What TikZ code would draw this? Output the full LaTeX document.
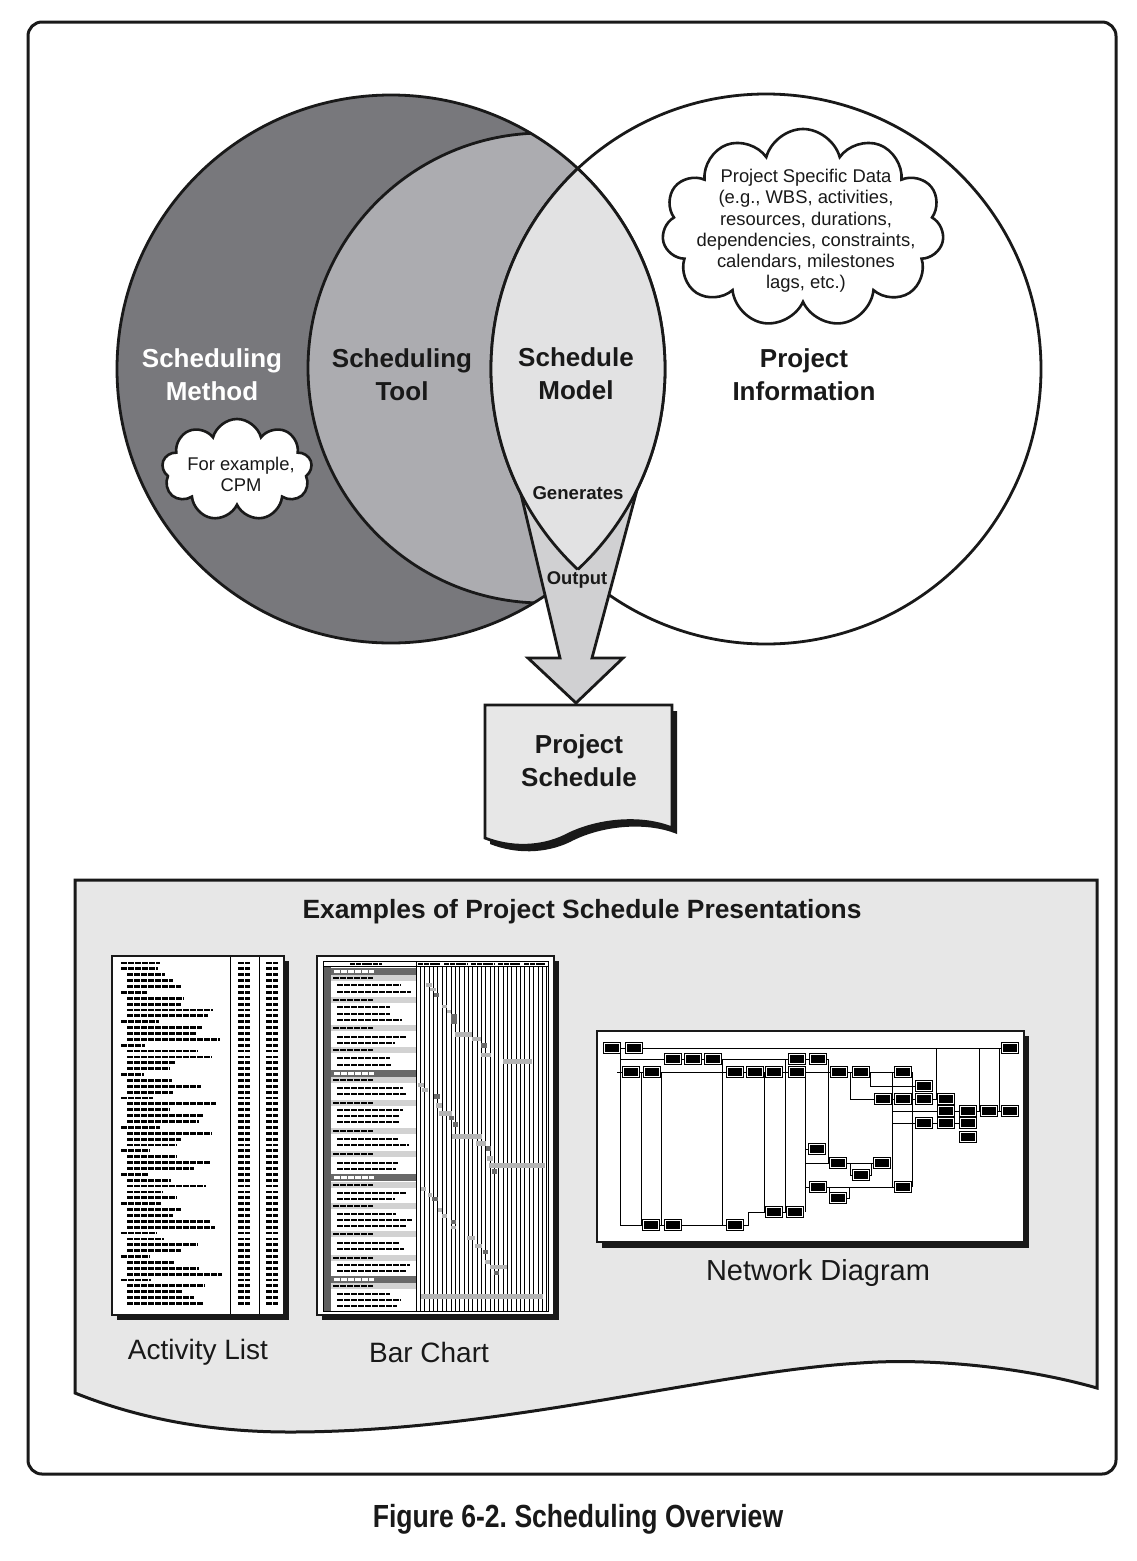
\documentclass[tikz,border=0pt]{standalone}
\usepackage{fontspec}
\usepackage{graphicx}
\setmainfont{Liberation Sans}
\usetikzlibrary{shapes.symbols}
\definecolor{cdark}{RGB}{120,120,124}
\definecolor{ctool}{RGB}{172,172,176}
\definecolor{clens}{RGB}{226,226,227}
\definecolor{carrow}{RGB}{208,208,210}
\definecolor{cpanel}{RGB}{231,231,231}
\definecolor{cband}{RGB}{210,210,210}
\definecolor{cbandd}{RGB}{105,105,105}
\definecolor{cstrip}{RGB}{95,95,95}
\definecolor{cbarl}{RGB}{180,180,180}
\definecolor{cbard}{RGB}{105,105,105}
\definecolor{cink}{RGB}{25,25,25}
\frenchspacing
\begin{document}
\begin{tikzpicture}[x=1pt,y=-1pt,
  lw/.style={line width=2.8pt, draw=cink},
  big/.style={font=\fontsize{26}{33}\selectfont\bfseries, align=center, inner sep=0pt, text=cink},
  small/.style={font=\fontsize{18.4}{21.2}\selectfont, align=center, inner sep=0pt, text=cink},
  capt/.style={font=\fontsize{28}{30}\selectfont, inner sep=0pt, text=cink},
  txt/.style={line width=2.8pt, dash pattern=on 6pt off 1pt, draw=black},
  ttxt/.style={line width=2.4pt, dash pattern=on 6pt off 1pt},
  nd/.style={draw=black, double=white, double distance=0.6pt, line width=1pt, fill=black,
    minimum width=15pt, minimum height=8.5pt, inner sep=0pt},
  nl/.style={line width=0.8pt, draw=black},
  puff/.style={cloud, cloud ignores aspect, draw=cink, fill=white, line width=2.6pt, inner sep=0pt}]
\useasboundingbox (0,0) rectangle (1137,1561);
\fill[white] (0,0) rectangle (1137,1561);

% outer frame
\draw[line width=3pt, draw=cink, rounded corners=14pt] (28,22) rectangle (1116,1474);

% ---- Venn part ----
\fill[white] (766,369) circle[radius=275];
\fill[cdark] (391,369) circle[radius=274];
\begin{scope}
  \clip (391,369) circle[radius=274];
  \fill[ctool] (543,368) circle[radius=235];
  \draw[lw] (543,368) circle[radius=235];
\end{scope}
\draw[lw] (391,369) circle[radius=274];
\draw[lw] (766,369) circle[radius=275];

% output arrow
\fill[carrow] (520,490) -- (560,658) -- (528,658) -- (576,703) -- (623,658) -- (592,658) -- (637,490) -- cycle;
\draw[lw, line join=miter] (520,490) -- (560,658) -- (528,658) -- (576,703) -- (623,658) -- (592,658) -- (637,490);

% lens (schedule model)
\begin{scope}
  \clip (391,369) circle[radius=274];
  \fill[clens] (766,369) circle[radius=275];
  \draw[lw] (766,369) circle[radius=275];
\end{scope}
\begin{scope}
  \clip (766,369) circle[radius=275];
  \draw[lw] (391,369) circle[radius=274];
\end{scope}

% clouds
\node[puff, cloud puffs=9, minimum width=150pt, minimum height=102pt] (cloudA) at (237,470) {};
\node[small] (cpm) at (241,474.5) {For example,\\CPM};
\node[puff, cloud puffs=11, minimum width=282pt, minimum height=198pt] (cloudB) at (803,228) {};
\node[small] (psd) at (806,231) {Project Specific Data\\(e.g., WBS, activities,\\resources, durations,\\dependencies, constraints,\\calendars, milestones\\lags, etc.)};

% labels
\node[big, text=white] (method) at (212,374.5) {Scheduling\\Method};
\node[big] (tool) at (402,374.5) {Scheduling\\Tool};
\node[big] (model) at (576,373.5) {Schedule\\Model};
\node[big] (info) at (804,374.5) {Project\\Information};
\node[font=\fontsize{18.6}{20}\selectfont\bfseries, inner sep=0pt, text=cink] (gen) at (578,493) {Generates};
\node[font=\fontsize{18.4}{20}\selectfont\bfseries, inner sep=0pt, text=cink] (out) at (577,580) {Output};

% project schedule document
\begin{scope}[shift={(5,6)}]
  \fill[cink] (485,705) -- (672,705) -- (672,828) .. controls (640,815) and (595,820) .. (565,836) .. controls (540,848) and (510,848) .. (485,838) -- cycle;
\end{scope}
\draw[lw, fill=cpanel] (485,705) -- (672,705) -- (672,828) .. controls (640,815) and (595,820) .. (565,836) .. controls (540,848) and (510,848) .. (485,838) -- cycle;
\node[big] (psched) at (579,761) {Project\\Schedule};

% ---- examples panel ----
\draw[line width=3pt, draw=cink, fill=cpanel] (75,880) -- (1097,880) -- (1097,1388) .. controls (1020,1366) and (925,1358) .. (860,1363) .. controls (710,1372) and (500,1432) .. (290,1432) .. controls (200,1432) and (130,1415) .. (75,1393) -- cycle;
\node[font=\fontsize{26.4}{28}\selectfont\bfseries, inner sep=0pt, text=cink] (extitle) at (582,912) {Examples of Project Schedule Presentations};

% activity list
\fill[cink] (117,961) rectangle (289,1320);
\draw[line width=1.6pt, draw=cink, fill=white] (112,956) rectangle (284,1315);
\draw[line width=1pt] (230,957) -- (230,1314);
\draw[line width=1pt] (259,957) -- (259,1314);
\pgfmathsetseed{11}
\foreach \ty [count=\i from 0] in {0,1,2,2,2,1,2,2,2,2,1,2,2,2,1,2,2,2,2,1,2,2,2,1,2,2,2,2,1,2,2,2,1,2,2,2,1,2,2,2,2,1,2,2,2,2,1,2,2,2,1,2,2,2,1,2,2,2,2}{
  \pgfmathsetmacro\yy{963+\i*5.87}
  \pgfmathsetmacro\xs{\ty==2 ? 127 : 121}
  \pgfmathsetmacro\lenA{\ty==2 ? 35+62*rnd : (\ty==1 ? 22+22*rnd : 39)}
  \draw[txt] (\xs,\yy) -- ++(\lenA,0);
  \draw[txt] (238,\yy) -- ++(12,0);
  \draw[txt] (266,\yy) -- ++(12,0);
}
\node[capt] (actlbl) at (198,1352) {Activity List};

% bar chart
\fill[cink] (322,961) rectangle (559,1320);
\draw[line width=1.6pt, draw=cink, fill=white] (317,956) rectangle (554,1315);
\fill[cstrip] (323,966) rectangle (331,1311);
\pgfmathsetseed{5}
\foreach \ty/\yy in {0/968,1/975,2/985,2/992,1/997,2/1007,2/1014,2/1020,1/1025,2/1037,2/1043,1/1047,2/1058,2/1065,0/1070,1/1077,2/1088,2/1094,1/1100,2/1110,2/1116,2/1122,1/1128,2/1139,2/1145,1/1151,2/1163,2/1169,0/1174,1/1182,2/1193,2/1199,1/1203,2/1214,2/1220,2/1226,1/1231,2/1243,2/1249,1/1255,2/1265,2/1271,0/1276,1/1283,2/1294,2/1300,2/1306}{
  \ifnum\ty=0
    \fill[cbandd] (331,\yy) rectangle (416,\yy+7);
    \draw[ttxt, white] (334,\yy+3.5) -- ++(40,0);
  \fi
  \ifnum\ty=1
    \fill[cband] (331,\yy) rectangle (416,\yy+6);
    \draw[ttxt, black] (333,\yy+3) -- ++(40,0);
  \fi
  \ifnum\ty=2
    \pgfmathsetmacro\lenB{52+24*rnd}
    \draw[ttxt, black] (337,\yy) -- ++(\lenB,0);
  \fi
}
\foreach \k in {1,...,30}{
  \draw[line width=0.6pt] ({416+\k*4.35},961) -- ({416+\k*4.35},1311);
}
\foreach \xa/\xb/\ya/\yb/\cc in {426/432/983/987/cbarl, 430/436/988/991/cbarl, 434/439/993/997/cbard, 442/447/1005/1008/cbarl, 447/451/1010/1013/cbarl, 451/457/1014/1024/cbard, 455/472/1032/1037/cbarl, 472/481/1037/1041/cbarl, 481/487/1043/1048/cbard, 481/491/1053/1057/cbarl, 503/532/1059/1064/cbarl,
  418/424/1083/1087/cbarl, 422/428/1088/1092/cbarl, 434/440/1094/1099/cbard, 436/442/1103/1108/cbarl, 439/452/1111/1116/cbarl, 449/454/1116/1120/cbard, 453/458/1122/1127/cbard, 452/482/1134/1139/cbarl, 476/486/1141/1146/cbarl, 486/491/1146/1151/cbard, 487/493/1156/1161/cbarl, 489/545/1163/1168/cbarl, 492/497/1169/1174/cbard,
  421/426/1187/1191/cbarl, 428/432/1193/1197/cbarl, 432/438/1197/1201/cbard, 438/442/1208/1212/cbarl, 442/447/1214/1218/cbarl, 451/456/1220/1224/cbard, 451/456/1226/1229/cbarl, 467/475/1236/1240/cbarl, 475/482/1244/1248/cbarl, 483/488/1250/1254/cbard, 485/490/1260/1264/cbarl, 490/507/1265/1269/cbarl, 494/499/1271/1275/cbard, 421/543/1294/1299/cbarl}{
  \fill[\cc] (\xa,\ya) rectangle (\xb,\yb);
}
\draw[line width=0.8pt] (323,961) rectangle (548,1311);
\draw[line width=0.8pt] (323,966) -- (548,966);
\draw[line width=0.8pt] (416,961) -- (416,1311);
\fill[white] (417,961.5) rectangle (547.5,965.5);
\foreach \xa/\xb in {350/382, 418/440, 444/468, 471/495, 498/521, 524/545}{
  \draw[line width=2pt, dash pattern=on 5pt off 0.8pt] (\xa,963.6) -- (\xb,963.6);
}
\node[capt] (barlbl) at (429,1352) {Bar Chart};

% network diagram
\fill[cink] (602,1036) rectangle (1029,1248);
\draw[line width=1.6pt, draw=cink, fill=white] (597,1031) rectangle (1024,1242);
\foreach \nm/\px/\py in {n1/612/1048, n2/634/1048, n3/673/1059, n4/693/1059, n5/713/1059, n6/797/1059, n7/818/1059, n8/1010/1048, n9/631/1072, n10/652/1072, n11/735/1072, n12/755/1072, n13/774/1072, n14/797/1072, n15/839/1072, n16/861/1072, n17/903/1072, n18/924/1086, n19/883/1099, n20/903/1099, n21/924/1099, n22/946/1099, n23/946/1111, n24/968/1111, n25/989/1111, n26/1010/1111, n27/924/1123, n28/946/1123, n29/968/1123, n30/968/1137, n31/817/1149, n32/838/1163, n33/861/1175, n34/882/1163, n35/818/1187, n36/838/1198, n37/903/1187, n38/774/1212, n39/795/1212, n40/651/1225, n41/673/1225, n42/735/1225}{
  \node[nd] (\nm) at (\px,\py) {};
}
\draw[nl] (n1.east) -- (n2.west);
\draw[nl] (n2.east) -- (n8.west);
\draw[nl] (936.7,1048) -- (936.7,1099);
\draw[nl] (979.3,1048) -- (979.3,1111);
\draw[nl] (999.3,1048) -- (999.3,1111);
\draw[nl] (620.7,1048) -- (620.7,1225) -- (n40.west);
\draw[nl] (620.7,1059) -- (n3.west);
\draw[nl] (n3.east) -- (n4.west) (n4.east) -- (n5.west) (n5.east) -- (n6.west) (n6.east) -- (n7.west);
\draw[nl] (n7.east) -- (828.3,1059) -- (828.3,1163) -- (n32.west);
\draw[nl] (617,1072) -- (n9.west);
\draw[nl] (n9.east) -- (n10.west) (n10.east) -- (n11.west) (n11.east) -- (n12.west) (n12.east) -- (n13.west) (n13.east) -- (n14.west) (n14.east) -- (n15.west) (n15.east) -- (n16.west) (n16.east) -- (n17.west);
\draw[nl] (641.7,1072) -- (641.7,1225);
\draw[nl] (661,1072) -- (661,1225);
\draw[nl] (n40.east) -- (n41.west) (n41.east) -- (n42.west);
\draw[nl] (722.3,1059) -- (722.3,1225);
\draw[nl] (764.3,1072) -- (764.3,1212);
\draw[nl] (n42.east) -- (748,1225) -- (748,1212) -- (n38.west);
\draw[nl] (n38.east) -- (n39.west);
\draw[nl] (785,1059) -- (785,1212);
\draw[nl] (805,1072) -- (805,1212);
\draw[nl] (805,1149) -- (n31.west);
\draw[nl] (805,1163) -- (828.3,1163);
\draw[nl] (805,1187) -- (n35.west);
\draw[nl] (n32.east) -- (n34.west);
\draw[nl] (850,1163) -- (850,1175) -- (n33.west) (n33.east) -- (871.7,1175) -- (871.7,1163);
\draw[nl] (n35.east) -- (n37.west);
\draw[nl] (829.3,1187) -- (829.3,1198) -- (n36.west) (n36.east) -- (849.3,1198) -- (849.3,1187);
\draw[nl] (850,1072) -- (850,1099) -- (n19.west);
\draw[nl] (870,1072) -- (870,1086) -- (n18.west);
\draw[nl] (892.7,1072) -- (892.7,1187);
\draw[nl] (892.7,1111) -- (n23.west);
\draw[nl] (892.7,1123) -- (n27.west);
\draw[nl] (912.7,1072) -- (912.7,1187);
\draw[nl] (n19.east) -- (n20.west) (n20.east) -- (n21.west) (n21.east) -- (n22.west);
\draw[nl] (n23.east) -- (n24.west) (n24.east) -- (n25.west) (n25.east) -- (n26.west);
\draw[nl] (n27.east) -- (n28.west) (n28.east) -- (n29.west);
\node[font=\fontsize{29}{31}\selectfont, inner sep=0pt, text=cink] (netlbl) at (818,1273) {Network Diagram};

% caption
\node[font=\fontsize{32}{36}\selectfont\bfseries, inner sep=0pt, text=cink] (caption) at (578,1519) {\scalebox{0.83}[1]{Figure 6-2. Scheduling Overview}};
\end{tikzpicture}
\end{document}
